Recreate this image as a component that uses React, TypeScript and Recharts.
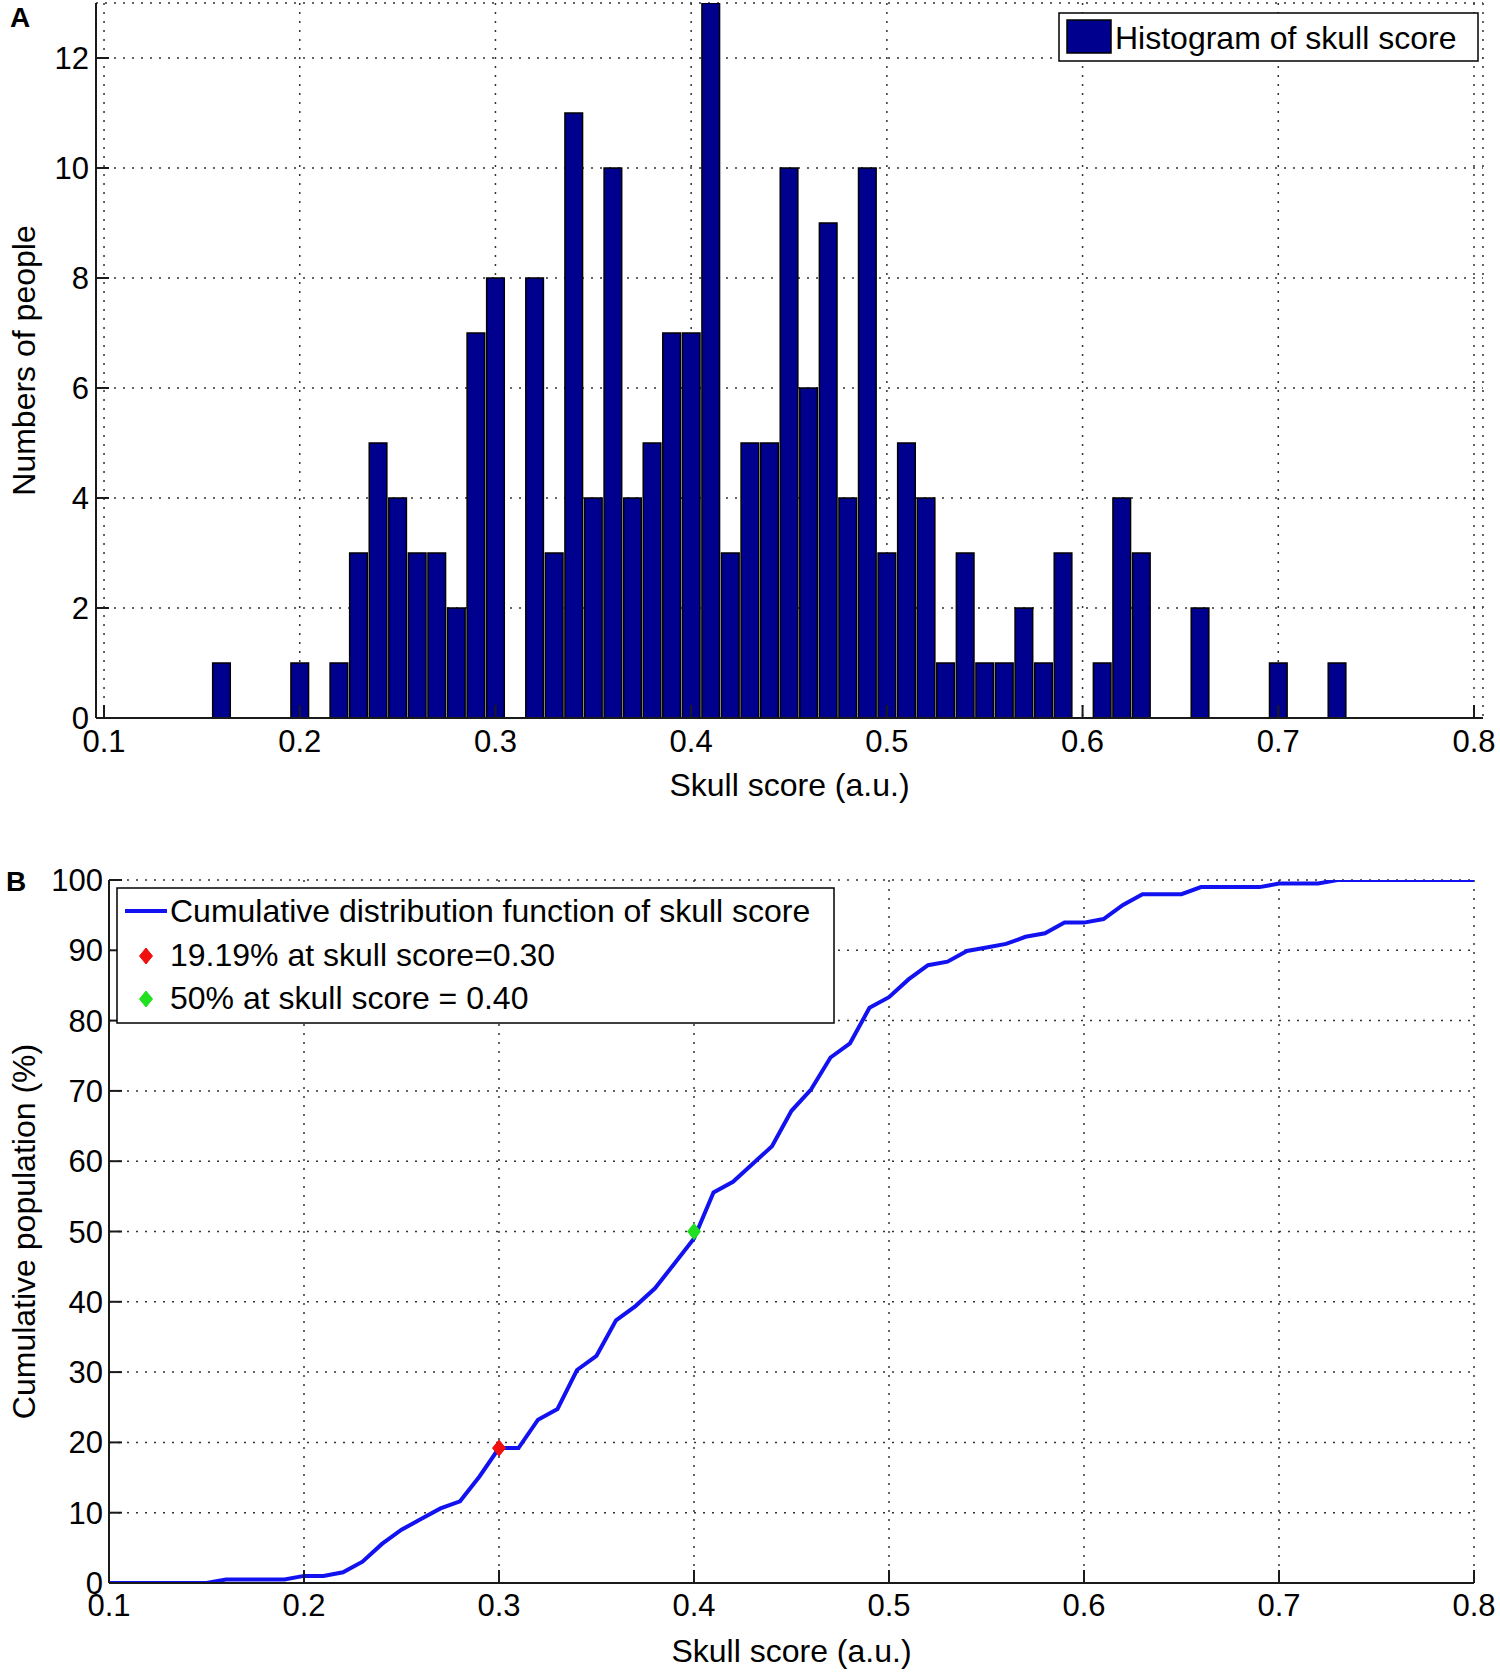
import { ComposedChart, Bar, Line, Scatter, XAxis, YAxis, CartesianGrid, Label } from "recharts";

const FONT = "'Liberation Sans', Arial, Helvetica, sans-serif";

// histogram bin centres (skull score, a.u.)
const scoreBins = [
  0.1, 0.11, 0.12, 0.13, 0.14, 0.15, 0.16, 0.17, 0.18, 0.19,
  0.2, 0.21, 0.22, 0.23, 0.24, 0.25, 0.26, 0.27, 0.28, 0.29,
  0.3, 0.31, 0.32, 0.33, 0.34, 0.35, 0.36, 0.37, 0.38, 0.39,
  0.4, 0.41, 0.42, 0.43, 0.44, 0.45, 0.46, 0.47, 0.48, 0.49,
  0.5, 0.51, 0.52, 0.53, 0.54, 0.55, 0.56, 0.57, 0.58, 0.59,
  0.6, 0.61, 0.62, 0.63, 0.64, 0.65, 0.66, 0.67, 0.68, 0.69,
  0.7, 0.71, 0.72, 0.73, 0.74, 0.75, 0.76, 0.77, 0.78, 0.79,
  0.8,
];

// number of people per bin
const peopleCounts = [
  0, 0, 0, 0, 0, 0, 1, 0, 0, 0,
  1, 0, 1, 3, 5, 4, 3, 3, 2, 7,
  8, 0, 8, 3, 11, 4, 10, 4, 5, 7,
  7, 13, 3, 5, 5, 10, 6, 9, 4, 10,
  3, 5, 4, 1, 3, 1, 1, 2, 1, 3,
  0, 1, 4, 3, 0, 0, 2, 0, 0, 0,
  1, 0, 0, 1, 0, 0, 0, 0, 0, 0,
  0,
];

// cumulative population (%) at each bin
const cumulativePct = [
  0, 0, 0, 0, 0, 0, 0.51, 0.51, 0.51, 0.51,
  1.01, 1.01, 1.52, 3.03, 5.56, 7.58, 9.09, 10.61, 11.62, 15.15,
  19.19, 19.19, 23.23, 24.75, 30.3, 32.32, 37.37, 39.39, 41.92, 45.45,
  48.99, 55.56, 57.07, 59.6, 62.12, 67.17, 70.2, 74.75, 76.77, 81.82,
  83.33, 85.86, 87.88, 88.38, 89.9, 90.4, 90.91, 91.92, 92.42, 93.94,
  93.94, 94.44, 96.46, 97.98, 97.98, 97.98, 98.99, 98.99, 98.99, 98.99,
  99.49, 99.49, 99.49, 100, 100, 100, 100, 100, 100, 100,
  100,
];

const scoreTicks = [0.1, 0.2, 0.3, 0.4, 0.5, 0.6, 0.7, 0.8];
const countTicks = [0, 2, 4, 6, 8, 10, 12];
const pctTicks = [0, 10, 20, 30, 40, 50, 60, 70, 80, 90, 100];

const redPoint = [{ x: 0.3, pct: 19.19 }];
const greenPoint = [{ x: 0.4, pct: 50 }];

const histRows = scoreBins.map((x, i) => ({ x, count: peopleCounts[i] }));
const cdfRows = scoreBins.map((x, i) => ({ x, pct: cumulativePct[i] }));

const BAR = "#00008F";
const BLUE = "#1212F0";
const RED = "#F01010";
const GREEN = "#20E020";

const tickStyle = { fill: "#000", fontSize: 31, fontFamily: FONT };
const axisLine = { stroke: "#1a1a1a", strokeWidth: 2 };
const titleStyle = { fontSize: 32, fill: "#000", fontFamily: FONT, textAnchor: "middle" as const };

const diamond = (color: string) => (props: any) => {
  const { cx, cy } = props;
  return (
    <polygon
      points={`${cx},${cy - 8} ${cx + 6.5},${cy} ${cx},${cy + 8} ${cx - 6.5},${cy}`}
      fill={color}
      stroke={color}
    />
  );
};

const HistogramPanel = () => (
  <ComposedChart
    width={1500}
    height={860}
    data={histRows}
    margin={{ top: 3, right: 17, left: 0, bottom: 0 }}
  >
    <CartesianGrid stroke="#333" strokeDasharray="2 7" strokeWidth={1.5} />
    <XAxis
      dataKey="x"
      type="number"
      domain={[0.0959, 0.8046]}
      ticks={scoreTicks}
      allowDataOverflow
      height={142}
      tick={tickStyle}
      tickSize={-13}
      tickMargin={25}
      axisLine={axisLine}
      tickLine={axisLine}
    >
      <Label value="Skull score (a.u.)" position="insideBottom" offset={64} style={titleStyle} />
    </XAxis>
    <XAxis
      xAxisId="top"
      orientation="top"
      dataKey="x"
      type="number"
      domain={[0.0959, 0.8046]}
      ticks={scoreTicks}
      allowDataOverflow
      height={0}
      tick={false}
      tickSize={-13}
      axisLine={axisLine}
      tickLine={axisLine}
    />
    <YAxis
      type="number"
      domain={[0, 13]}
      ticks={countTicks}
      allowDataOverflow
      width={96}
      tick={tickStyle}
      tickSize={-13}
      tickMargin={20}
      axisLine={axisLine}
      tickLine={axisLine}
    >
      <Label value="Numbers of people" angle={-90} position="insideLeft" offset={24} style={titleStyle} />
    </YAxis>
    <YAxis
      yAxisId="right"
      orientation="right"
      type="number"
      domain={[0, 13]}
      ticks={countTicks}
      allowDataOverflow
      width={0}
      tick={false}
      tickSize={-13}
      axisLine={axisLine}
      tickLine={axisLine}
    />
    <Bar
      dataKey="count"
      fill={BAR}
      stroke="#000"
      strokeWidth={1.5}
      barSize={19.6}
      isAnimationActive={false}
    />
  </ComposedChart>
);

const CdfPanel = () => (
  <ComposedChart
    width={1500}
    height={816}
    data={cdfRows}
    margin={{ top: 20, right: 26, left: 0, bottom: 0 }}
  >
    <CartesianGrid stroke="#333" strokeDasharray="2 7" strokeWidth={1.5} />
    <XAxis
      dataKey="x"
      type="number"
      domain={[0.1, 0.8]}
      ticks={scoreTicks}
      allowDataOverflow
      height={93}
      tick={tickStyle}
      tickSize={-13}
      tickMargin={24}
      axisLine={axisLine}
      tickLine={axisLine}
    >
      <Label value="Skull score (a.u.)" position="insideBottom" offset={14} style={titleStyle} />
    </XAxis>
    <XAxis
      xAxisId="top"
      orientation="top"
      dataKey="x"
      type="number"
      domain={[0.1, 0.8]}
      ticks={scoreTicks}
      allowDataOverflow
      height={0}
      tick={false}
      tickSize={-13}
      axisLine={axisLine}
      tickLine={axisLine}
    />
    <YAxis
      type="number"
      domain={[0, 100]}
      ticks={pctTicks}
      allowDataOverflow
      width={109}
      tick={tickStyle}
      tickSize={-13}
      tickMargin={19}
      axisLine={axisLine}
      tickLine={axisLine}
    >
      <Label value="Cumulative population (%)" angle={-90} position="insideLeft" offset={24} style={titleStyle} />
    </YAxis>
    <YAxis
      yAxisId="right"
      orientation="right"
      type="number"
      domain={[0, 100]}
      ticks={pctTicks}
      allowDataOverflow
      width={0}
      tick={false}
      tickSize={-13}
      axisLine={axisLine}
      tickLine={axisLine}
    />
    <Line
      type="linear"
      dataKey="pct"
      stroke={BLUE}
      strokeWidth={4}
      dot={false}
      isAnimationActive={false}
    />
    <Scatter data={redPoint} dataKey="pct" shape={diamond(RED)} isAnimationActive={false} />
    <Scatter data={greenPoint} dataKey="pct" shape={diamond(GREEN)} isAnimationActive={false} />
  </ComposedChart>
);

const Overlay = () => {
  const text = { fontFamily: FONT, fontSize: 32, fill: "#000" };
  return (
    <svg
      width={1500}
      height={1676}
      style={{ position: "absolute", left: 0, top: 0, pointerEvents: "none" }}
    >
      <text x={10} y={27} fontFamily={FONT} fontSize={28} fontWeight="bold">A</text>
      <text x={6} y={891} fontFamily={FONT} fontSize={28} fontWeight="bold">B</text>

      {/* legend of panel A */}
      <rect x={1059} y={13} width={419} height={48} fill="#fff" stroke="#000" strokeWidth={1.5} />
      <rect x={1067} y={20} width={44} height={33} fill={BAR} stroke="#000" strokeWidth={1.5} />
      <text x={1115} y={49} {...text}>Histogram of skull score</text>

      {/* legend of panel B */}
      <rect x={117} y={888} width={717} height={135} fill="#fff" stroke="#000" strokeWidth={1.5} />
      <line x1={125} x2={167} y1={911} y2={911} stroke={BLUE} strokeWidth={4} />
      <text x={170} y={922} {...text}>Cumulative distribution function of skull score</text>
      {diamond(RED)({ cx: 146, cy: 956 })}
      <text x={170} y={966} {...text}>19.19% at skull score=0.30</text>
      {diamond(GREEN)({ cx: 146, cy: 999 })}
      <text x={170} y={1009} {...text}>50% at skull score = 0.40</text>
    </svg>
  );
};

export default function App() {
  return (
    <div
      style={{
        position: "absolute",
        left: 0,
        top: 0,
        width: 1500,
        height: 1676,
        background: "#fff",
        overflow: "hidden",
      }}
    >
      <div style={{ position: "absolute", left: 0, top: 0 }}>
        <HistogramPanel />
      </div>
      <div style={{ position: "absolute", left: 0, top: 860 }}>
        <CdfPanel />
      </div>
      <Overlay />
    </div>
  );
}
